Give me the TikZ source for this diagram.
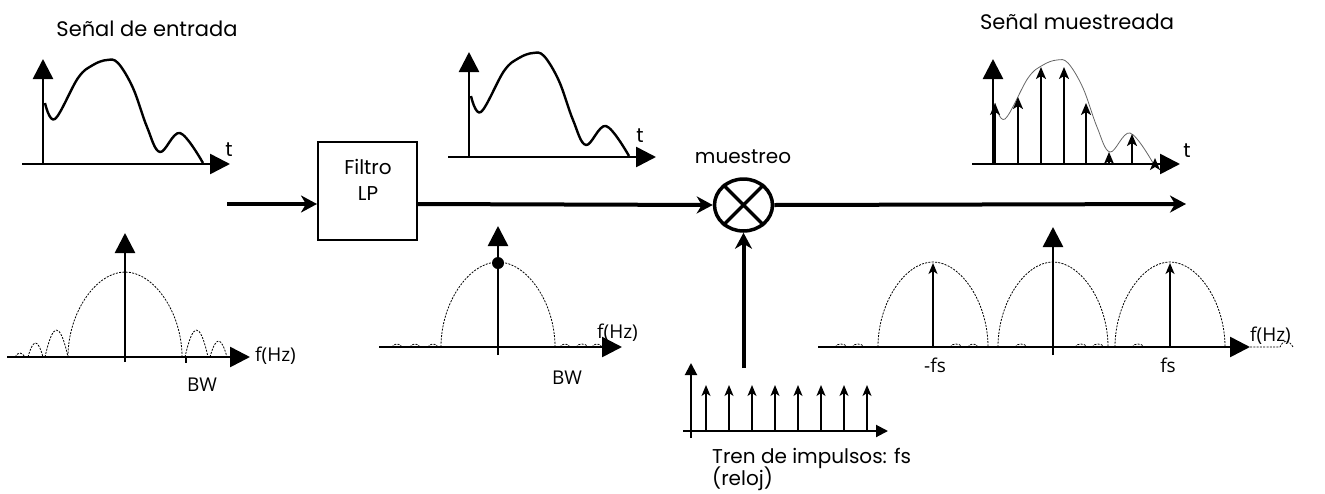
\documentclass[tikz,border=0pt]{standalone}
\usepackage{fontspec}
\setmainfont{Poppins}
\newfontfamily\specfont{Open Sans}
\usetikzlibrary{arrows.meta,shapes.geometric}

\begin{document}
\begin{tikzpicture}[x=1pt,y=-1pt,
  every node/.style={inner sep=0pt,font=\fontsize{20}{24}\selectfont},
  axis/.style={line width=2.6pt,-{Triangle[length=20pt,width=20pt]}},
  smallaxis/.style={line width=2pt,-{Triangle[length=12pt,width=12pt]}},
  mainline/.style={line width=4pt,-{Stealth[length=16pt,width=17pt,inset=5pt]}},
  signal/.style={line width=2.4pt,line join=round},
  sampled/.style={line width=0.8pt,black!60},
  lobe/.style={dash pattern=on 2pt off 1.3pt,line width=0.8pt},
  sample/.style={line width=1.8pt,-{Stealth[length=12pt,width=10pt,inset=3pt]}},
  tick/.style={line width=1.6pt,-{Stealth[length=11pt,width=9pt,inset=3pt]}},
  spec/.style={font=\specfont\fontsize{19}{23}\selectfont}]
\useasboundingbox (0,0) rectangle (1325,493);

% time signals: input, filtered, sampled
\foreach \ox/\oy in {43/164, 469/157, 993/164} {
  \draw[axis] (\ox-21,\oy) -- (\ox+187,\oy);
  \draw[axis] (\ox,\oy) -- (\ox,\oy-105);
}
\foreach \dx/\dy/\sty in {0/0/signal, 426/-7/signal, 950/0/sampled}
  \draw[\sty,shift={(\dx,\dy)}] plot[smooth,tension=0.6] coordinates
    {(45,103) (55,119) (78,78) (93,65) (107,60) (118,63) (133,88) (147,127)
     (160,152) (180,133) (203,163)};
\foreach \x/\h in {995/103,1018/97,1041/67,1064/67,1086/103,1109/152,1132/134,1155/158}
  \draw[sample] (\x,164) -- (\x,\h);
\node (t1) at (229,150) {t};
\node (t2) at (640,136) {t};
\node (t3) at (1187,151) {t};
\node[font=\fontsize{21}{25}\selectfont] (entrada) at (147,29) {Señal de entrada};
\node[font=\fontsize{21}{25}\selectfont] (muestreada) at (1077,22) {Señal muestreada};

% main chain
\coordinate (in) at (227,204);
\coordinate (out) at (1186,204);
\coordinate (clk) at (743.5,368);
\node[draw,line width=2pt,minimum width=99,minimum height=98] (filtro) at (367.5,191) {};
\node[align=center,font=\fontsize{20}{26}\selectfont] (filtrotxt) at (368,180) {Filtro\\LP};
\node[draw,ellipse,line width=3.5pt,minimum width=58,minimum height=52] (mult) at (743.5,205) {};
\draw[line width=3.5pt] (mult.135) -- (mult.-45) (mult.45) -- (mult.-135);
\node (muestreo) at (743,157) {muestreo};
\draw[mainline] (in) -- (in -| filtro.west);
\draw[mainline] (in -| filtro.east) -- (mult.west);
\draw[mainline] (mult.east) -- (out);
\draw[mainline] (clk) -- (mult.south);

% impulse train
\draw[smallaxis] (683,431) -- (888,431);
\draw[smallaxis] (691,438) -- (691,363);
\foreach \i in {0,...,7}
  \draw[tick] (706+23*\i,431) -- (706+23*\i,385);
\node[anchor=base west] (tren) at (712,463) {Tren de impulsos: fs};
\node[anchor=base west] (reloj) at (712,485) {(reloj)};

% spectra
\draw[axis] (7,357) -- (250,357);
\draw[line width=2.6pt] (125,362) -- (125,300);
\draw[axis] (125,300) -- (125,233);
\draw[line width=1.5pt] (186,357) -- (186,363);
\draw[axis] (379,347) -- (622,347);
\draw[line width=2.6pt] (498,355) -- (498,300);
\draw[axis] (498,300) -- (498,226);
\draw[axis] (818,347) -- (1250,347);
\draw[line width=2.6pt] (1053,355) -- (1053,300);
\draw[axis] (1053,300) -- (1053,227);
\foreach \cx/\by/\w in {125/357/57, 498/347/57, 933/347/55, 1053/347/55, 1170/347/55}
  \draw[lobe] (\cx-\w,\by) .. controls (\cx-\w,\by-45) and (\cx-\w/2,\by-85) .. (\cx,\by-85)
    .. controls (\cx+\w/2,\by-85) and (\cx+\w,\by-45) .. (\cx+\w,\by);
\foreach \a/\b/\h in {15/25/4, 28/43/14, 45/68/27, 185/208/27, 210/227/16}
  \draw[lobe] (\a,357) .. controls (\a+0.35*\b-0.35*\a,357-1.33*\h) and (\b-0.35*\b+0.35*\a,357-1.33*\h) .. (\b,357);
\foreach \a/\b in {392/402, 410/420, 428/438, 560/570, 576/588, 592/602,
                   835/847, 852/864, 950/962, 968/978, 1015/1027, 1075/1087, 1092/1104, 1132/1144}
  \draw[lobe] (\a,347) .. controls (\a+2,343) and (\b-2,343) .. (\b,347);
\draw[lobe] (1250,347) -- (1280,347) .. controls (1284,339) and (1288,339) .. (1293,347);
\fill (498,263) circle[radius=6];
\draw[tick] (933,347) -- (933,263);
\draw[tick] (1170,347) -- (1170,263);
\node[spec,anchor=west] (fhz1) at (255,356) {f(Hz)};
\node[spec,anchor=west] (fhz2) at (597,333) {f(Hz)};
\node[spec,anchor=west] (fhz3) at (1250,336) {f(Hz)};
\node[spec] (bw1) at (202,385) {BW};
\node[spec] (bw2) at (567,378) {BW};
\node[spec] (mfs) at (935,365) {-fs};
\node[spec] (fs) at (1168,365) {fs};
\end{tikzpicture}
\end{document}
